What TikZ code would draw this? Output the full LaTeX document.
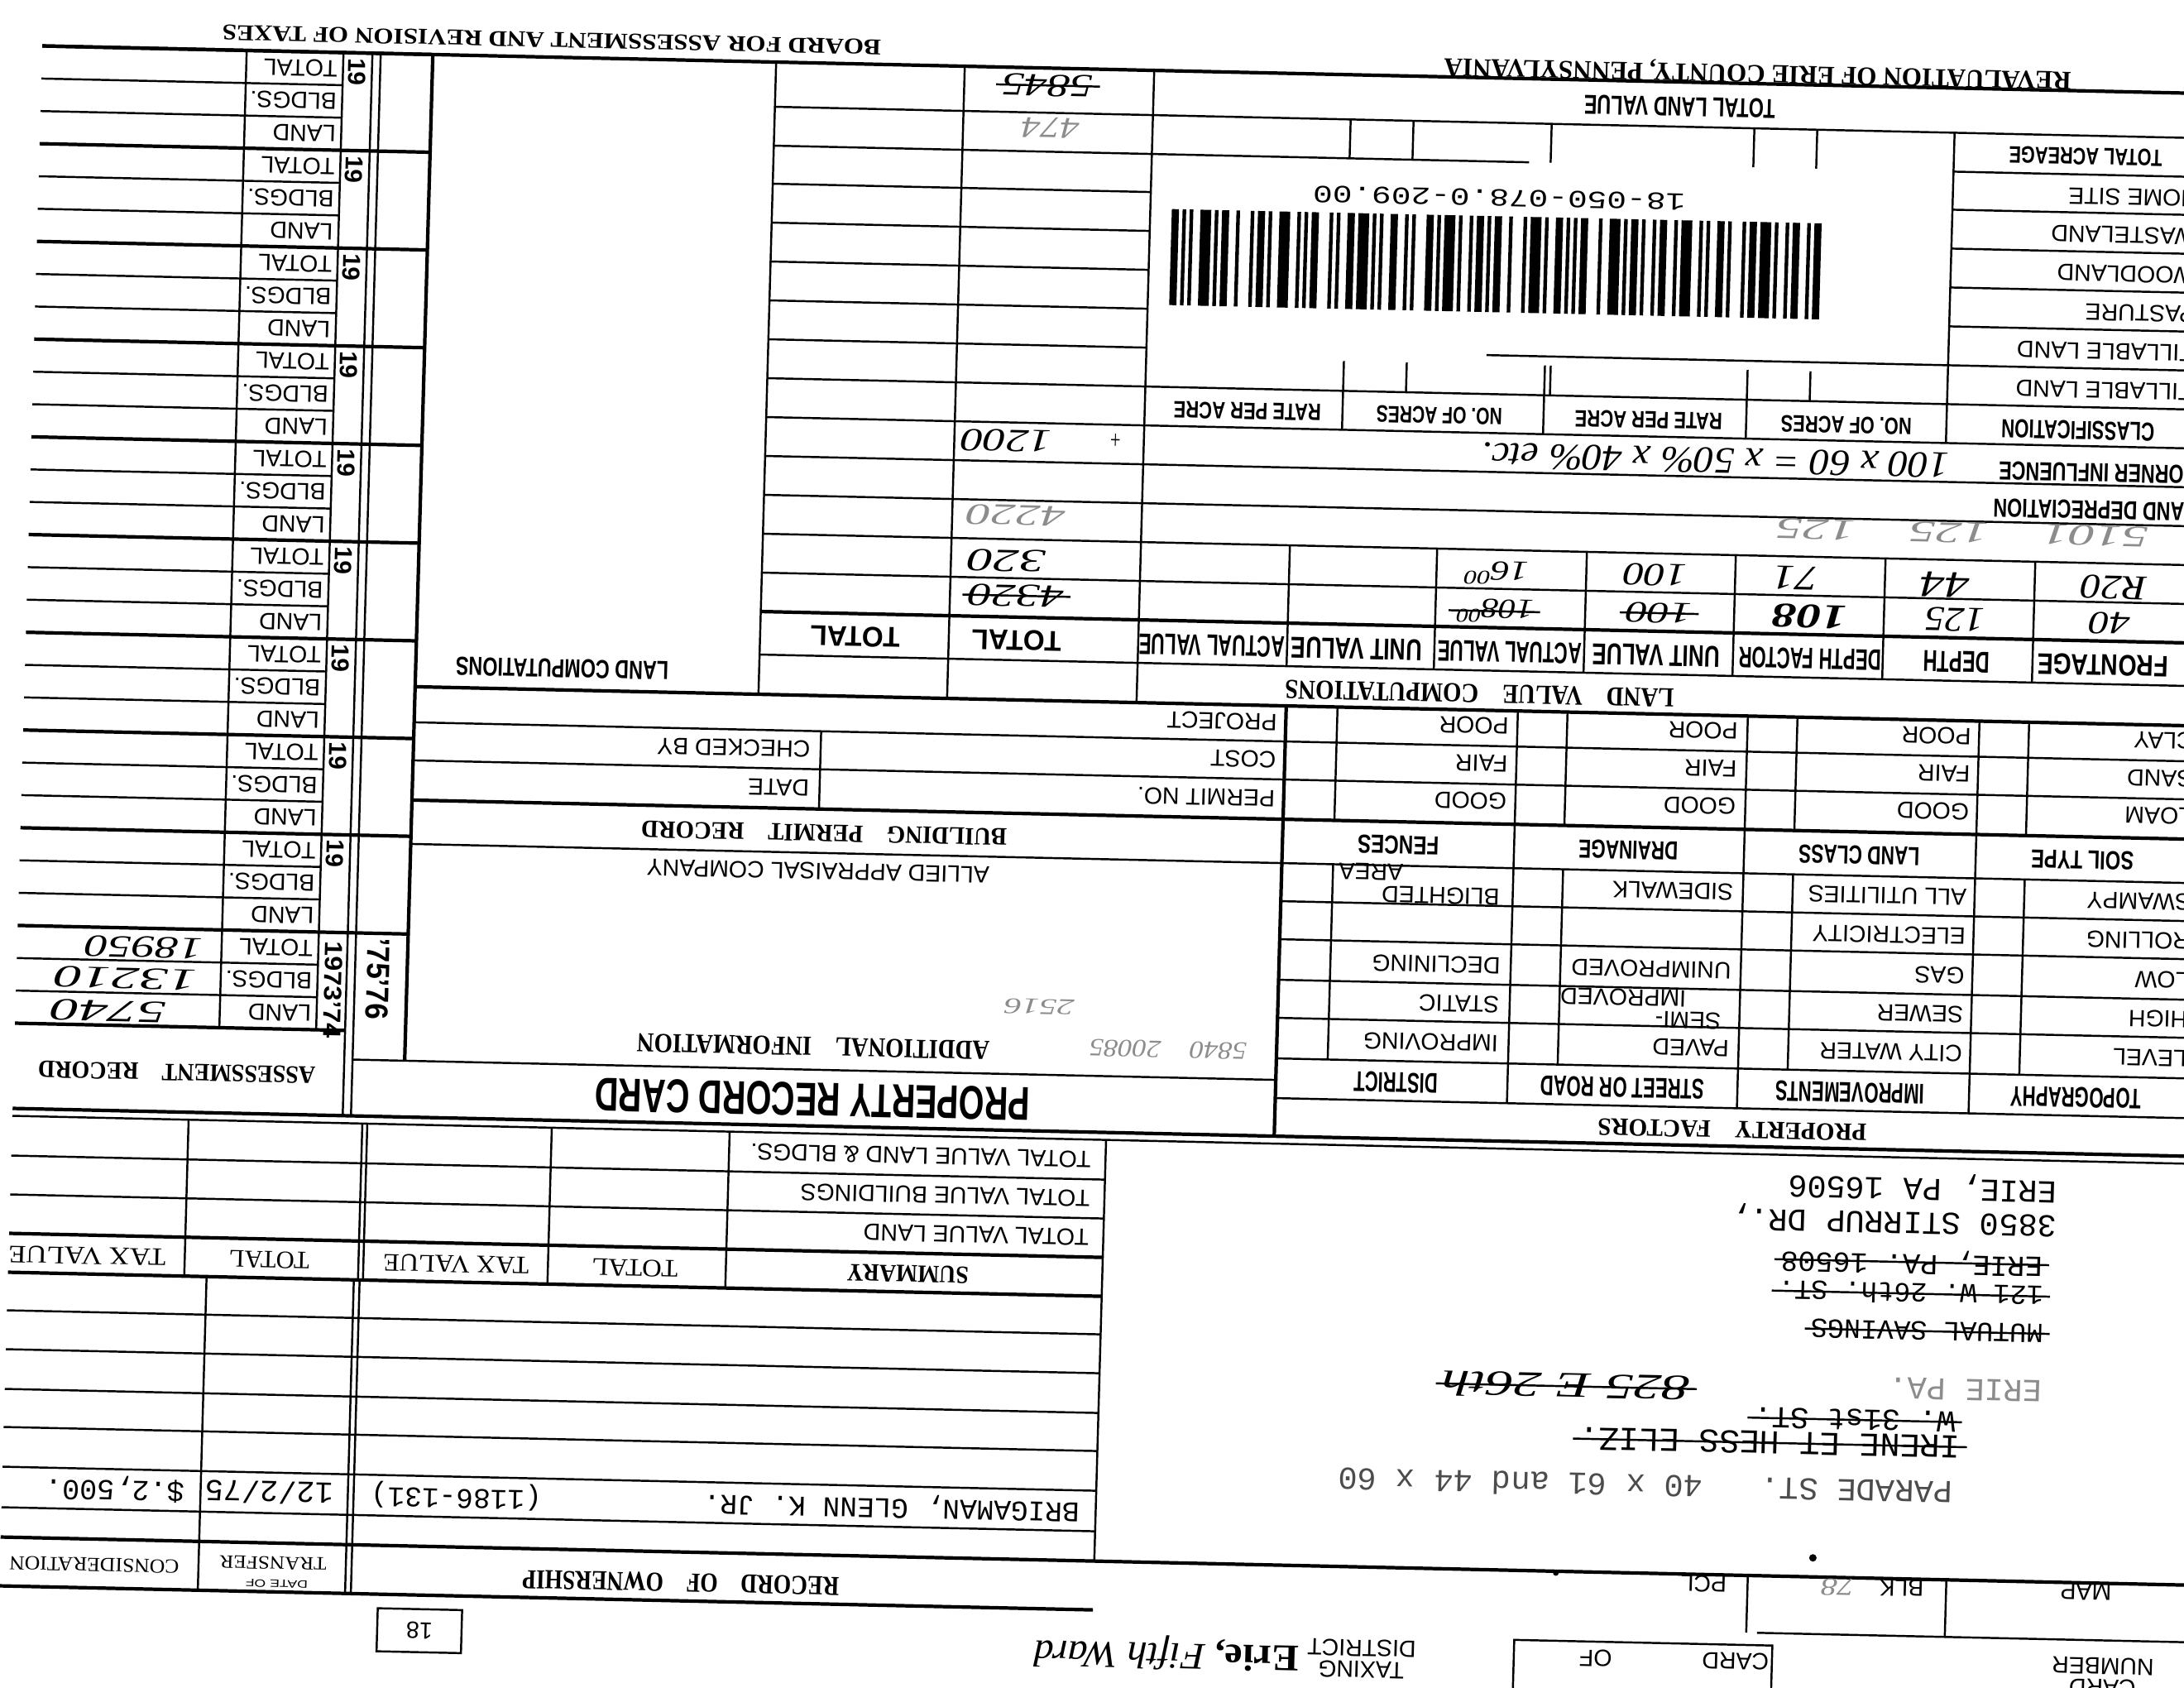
\documentclass[tikz,border=0pt]{standalone}
\usepackage{fontspec}
\setmainfont{Liberation Serif}
\setsansfont{Liberation Sans}
\setmonofont{Liberation Mono}
\usepackage{graphicx}

\newcommand{\sq}[3]{\resizebox{#1cm}{#2cm}{#3}}
\newcommand{\labf}{\sffamily\fontsize{8.1}{9}\selectfont}
\newcommand{\typf}{\ttfamily\fontsize{11}{12}\selectfont}

\tikzset{
  ln/.style={line width=0.7pt},
  thk/.style={line width=1.2pt},
  up/.style={rotate=180, inner sep=0pt},
  lab/.style={up, anchor=west, font=\labf},
  hd/.style={up, font=\bfseries\sffamily},
  ser/.style={up, font=\bfseries\rmfamily},
  serm/.style={up, font=\rmfamily},
  typ/.style={up, anchor=west, font=\typf},
  hw/.style={up, font=\rmfamily\itshape},
  faint/.style={text=black!45},
  strike/.style={ln, shorten <=-2pt, shorten >=-2pt},
}

\begin{document}
\begin{tikzpicture}
\fill[white] (0,0) rectangle (26.4,-20.4);
\useasboundingbox (0,0) rectangle (26.4,-20.4);
\begin{scope}[cm={1,-0.022,0.028,1,(0.2856,0.2904)}, transform shape]

% assessment record blocks
\foreach \k in {0,...,9}{
  \pgfmathsetmacro\bt{0.84+1.181*\k}
  \draw[thk] (0.25,-\bt) -- (4.97,-\bt);
  \draw[ln] (0.25,-\bt-0.394) -- (3.89,-\bt-0.394);
  \draw[ln] (0.25,-\bt-0.787) -- (3.89,-\bt-0.787);
  \node[lab] (tot\k) at (3.83,-\bt-0.197) {TOTAL};
  \node[lab] (bld\k) at (3.83,-\bt-0.590) {BLDGS.};
  \node[lab] (lnd\k) at (3.83,-\bt-0.984) {LAND};
  \ifnum\k<9
    \node[rotate=-90, inner sep=0pt, font=\bfseries\sffamily\fontsize{8.5}{9}\selectfont] (yr\k) at (4.06,-\bt-0.23) {19};
  \fi
}
\draw[thk] (0.25,-12.65) -- (4.24,-12.65);
\draw[ln] (2.72,-0.84) -- (2.72,-12.65);
\draw[ln] (3.89,-0.84) -- (3.89,-12.65);
\draw[ln] (4.24,-0.84) -- (4.24,-13.68);
\draw[ln] (4.34,-0.84) -- (4.34,-13.68);
\node[rotate=-90, inner sep=0pt, font=\bfseries\sffamily] (yr9) at (4.08,-12.16) {\sq{1.17}{0.21}{1973'74}};
\node[rotate=-90, inner sep=0pt, font=\bfseries\sffamily] (yr10) at (4.62,-12.02) {\sq{0.98}{0.27}{'75'76}};
\node[hw] (av1) at (1.78,-11.70) {\sq{1.42}{0.25}{18950}};
\node[hw] (av2) at (1.57,-12.08) {\sq{1.72}{0.25}{13210}};
\node[hw] (av3) at (1.38,-12.48) {\sq{1.40}{0.25}{5740}};
\node[ser] (asrec) at (2.22,-13.20) {\sq{3.35}{0.20}{ASSESSMENT\quad RECORD}};

% top border and titles
\draw[thk] (0.25,-0.84) -- (26.8,-0.84);
\node[ser] (board) at (6.40,-0.63) {\sq{7.96}{0.18}{BOARD FOR ASSESSMENT AND REVISION OF TAXES}};
\node[ser] (reval) at (20.98,-0.70) {\sq{7.58}{0.21}{REVALUATION OF ERIE COUNTY, PENNSYLVANIA}};

% middle columns
\draw[thk] (4.97,-0.84) -- (4.97,-13.00);
\draw[ln] (9.12,-0.84) -- (9.12,-8.48);
\draw[ln] (11.40,-0.84) -- (11.40,-8.48);
\draw[ln] (13.69,-0.84) -- (13.69,-8.48);
\foreach \y in {1.38,1.85,2.31,2.78,3.25,3.72,4.19,4.66,5.13,5.60,6.07,6.54,7.01}
  \draw[ln] (9.12,-\y) -- (13.69,-\y);
\node[hd] (tota) at (10.27,-7.76) {\sq{1.08}{0.24}{TOTAL}};
\node[hd] (totb) at (12.22,-7.76) {\sq{1.08}{0.24}{TOTAL}};
\node[hd] (lcomp) at (6.74,-8.22) {\sq{2.57}{0.22}{LAND COMPUTATIONS}};

% land value table
\draw[ln] (13.69,-1.38) -- (26.8,-1.38);
\draw[ln] (13.69,-1.85) -- (18.25,-1.85);
\foreach \y in {1.85,2.31,2.78,3.25,3.72,4.19}
  \draw[ln] (23.38,-\y) -- (26.8,-\y);
\draw[ln] (17.80,-4.19) -- (23.38,-4.19);
\foreach \y in {4.66,5.13,5.60,6.07,6.54,7.01}
  \draw[ln] (13.69,-\y) -- (26.8,-\y);
\draw[thk] (9.12,-7.48) -- (26.8,-7.48);
\draw[ln] (9.12,-8.00) -- (26.8,-8.00);
\draw[thk] (4.97,-8.48) -- (26.8,-8.48);
\draw[ln] (23.38,-1.38) -- (23.38,-5.13);
\foreach \x in {16.08,16.84,18.51,20.96,21.72}
  \draw[ln] (\x,-1.38) -- (\x,-1.85);
\foreach \x in {16.08,16.84,18.51,18.58,20.96,21.72}
  \draw[ln] (\x,-4.30) -- (\x,-4.66);
\foreach \x in {16.08,18.51,20.96}
  \draw[ln] (\x,-4.66) -- (\x,-5.13);
\foreach \x in {15.49,17.27,19.08,20.88,22.69,24.50}
  \draw[ln] (\x,-6.54) -- (\x,-8.00);

\node[hd] (tlv) at (20.05,-1.14) {\sq{2.31}{0.23}{TOTAL LAND VALUE}};
\node[hd] (tacre) at (24.97,-1.63) {\sq{1.85}{0.20}{TOTAL ACREAGE}};
\node[lab] (home) at (26.35,-2.11) {HOME SITE};
\node[lab] (waste) at (26.35,-2.57) {WASTELAND};
\node[lab] (wood) at (26.35,-3.04) {WOODLAND};
\node[lab] (past) at (26.35,-3.51) {PASTURE};
\node[lab] (till1) at (26.35,-3.98) {TILLABLE LAND};
\node[lab] (till2) at (26.35,-4.45) {TILLABLE LAND};
\node[hd] (clsf) at (24.97,-4.94) {\sq{1.85}{0.22}{CLASSIFICATION}};
\node[hd] (rate1) at (14.93,-4.93) {\sq{1.78}{0.20}{RATE PER ACRE}};
\node[hd] (acres1) at (17.25,-4.93) {\sq{1.52}{0.20}{NO. OF ACRES}};
\node[hd] (rate2) at (19.78,-4.93) {\sq{1.78}{0.20}{RATE PER ACRE}};
\node[hd] (acres2) at (22.17,-4.94) {\sq{1.58}{0.20}{NO. OF ACRES}};
\node[hd] (corner) at (25.23,-5.45) {\sq{2.40}{0.22}{CORNER INFLUENCE}};
\node[hd] (ldep) at (25.20,-5.90) {\sq{2.45}{0.22}{LAND DEPRECIATION}};
\node[hd] (front) at (25.35,-7.77) {\sq{1.58}{0.25}{FRONTAGE}};
\node[hd] (depth) at (23.58,-7.77) {\sq{0.80}{0.25}{DEPTH}};
\node[hd] (dfact) at (21.81,-7.77) {\sq{1.72}{0.25}{DEPTH FACTOR}};
\node[hd] (unit1) at (19.95,-7.77) {\sq{1.54}{0.25}{UNIT VALUE}};
\node[hd] (act1) at (18.18,-7.77) {\sq{1.74}{0.25}{ACTUAL VALUE}};
\node[hd] (unit2) at (16.33,-7.77) {\sq{1.58}{0.25}{UNIT VALUE}};
\node[hd] (act2) at (14.58,-7.77) {\sq{1.76}{0.25}{ACTUAL VALUE}};
\node[ser] (lvc) at (17.83,-8.28) {\sq{4.70}{0.22}{LAND\quad VALUE\quad COMPUTATIONS}};

% barcode label
\node[up, font=\ttfamily] (bcnum) at (17.90,-2.29) {\sq{4.50}{0.20}{18-050-078.0-209.00}};
\def\bpos{0}
\foreach \bw/\sw in {2/1,1/1,1/2,3/1,1/1,2/2,1/3,1/1,2/1,1/2,3/2,1/1,1/1,2/3,1/1,1/2,2/1,3/1,1/1,1/2,2/2,1/1,1/3,2/1,1/1,3/1,1/2,1/1,2/1,1/1,2/2,1/3,1/1,3/1,1/2,2/1,1/1,1/1,2/3,1/2,3/1,1/1,2/1,1/2,1/1,2/2,1/1,3/2,1/1,1/2,2/1,1/3,1/1,2/1,3/1,1/2,1/1,2/2,1/1,2/1}{
  \fill (13.95+\bpos*0.0434,-2.51) rectangle ++(\bw*0.0434,-1.16);
  \pgfmathsetmacro\nbpos{\bpos+\bw+\sw}
  \global\let\bpos\nbpos
}

% handwritten figures
\node[hw] (h5845) at (12.41,-1.05) {\sq{1.10}{0.26}{5845}};
\draw[strike] (h5845.west) -- (h5845.east);
\node[hw, faint] (h474) at (12.46,-1.56) {\sq{0.70}{0.24}{474}};
\node[hw] (h1200) at (12.03,-5.35) {\sq{1.10}{0.26}{1200}};
\node[hw] (hplus) at (13.35,-5.30) {\sq{0.15}{0.18}{+}};
\node[hw, faint] (h4220) at (12.17,-6.25) {\sq{1.20}{0.24}{4220}};
\node[hw] (h320) at (12.07,-6.80) {\sq{0.95}{0.26}{320}};
\node[hw] (h4320) at (12.20,-7.22) {\sq{1.15}{0.26}{4320}};
\draw[strike] (h4320.west) -- (h4320.east);
\node[hw] (hcorner) at (20.60,-5.40) {\sq{5.65}{0.30}{100 x 60 = x 50\% x 40\% etc.}};
\node[hw, faint] (hdep) at (23.61,-6.21) {\sq{4.50}{0.24}{5101\quad 125\quad 125}};
\node[hw] (hr20) at (25.46,-6.83) {\sq{0.80}{0.28}{R20}};
\node[hw] (h40) at (25.42,-7.26) {\sq{0.50}{0.26}{40}};
\node[hw] (h44) at (23.42,-6.84) {\sq{0.60}{0.30}{44}};
\node[hw] (h125) at (23.55,-7.26) {\sq{0.72}{0.28}{125}};
\node[hw] (h71) at (21.61,-6.80) {\sq{0.55}{0.28}{71}};
\node[hw] (h108a) at (21.79,-7.26) {\sq{0.90}{0.28}{\bfseries 108}};
\node[hw] (h100a) at (19.91,-6.80) {\sq{0.77}{0.26}{100}};
\node[hw] (h100b) at (19.97,-7.26) {\sq{0.80}{0.24}{100}};
\draw[strike] (h100b.west) -- (h100b.east);
\node[hw] (h16) at (17.98,-6.82) {\sq{0.80}{0.28}{16\textsuperscript{00}}};
\node[hw] (h108b) at (17.98,-7.28) {\sq{0.95}{0.28}{108\textsuperscript{00}}};
\draw[strike] (h108b.west) -- (h108b.east);

% building permit record
\draw[ln] (4.97,-8.91) -- (26.8,-8.91);
\draw[ln] (4.97,-9.37) -- (26.8,-9.37);
\draw[thk] (4.97,-9.85) -- (26.8,-9.85);
\draw[ln] (4.97,-10.38) -- (26.8,-10.38);
\draw[ln] (9.89,-8.91) -- (9.89,-9.85);
\draw[ln] (4.34,-13.00) -- (15.50,-13.00);
\draw[thk] (15.50,-8.48) -- (15.50,-13.68);
\node[lab] (proj) at (15.40,-8.68) {PROJECT};
\node[lab] (cost) at (15.40,-9.13) {COST};
\node[lab] (permit) at (15.40,-9.60) {PERMIT NO.};
\node[lab] (chk) at (9.77,-9.13) {CHECKED BY};
\node[lab] (date) at (9.77,-9.60) {DATE};
\node[ser] (bpr) at (9.96,-10.14) {\sq{4.42}{0.20}{BUILDING\quad PERMIT\quad RECORD}};
\node[lab, anchor=center] (allied) at (9.90,-10.60) {ALLIED APPRAISAL COMPANY};
\node[ser] (addi) at (9.90,-12.72) {\sq{4.26}{0.22}{ADDITIONAL\quad INFORMATION}};
\node[hw, faint] (h2516) at (12.62,-12.18) {\sq{0.85}{0.18}{2516}};
\node[hw, faint] (h5840) at (14.19,-12.66) {\sq{1.90}{0.20}{5840\quad 20085}};
\node[hd] (prc) at (9.91,-13.36) {\sq{5.26}{0.40}{PROPERTY RECORD CARD}};

% property factors
\foreach \y in {10.84,11.30,11.79,12.25,12.74,13.22}
  \draw[ln] (15.50,-\y) -- (26.8,-\y);
\foreach \x in {18.30,21.08,23.88}
  \draw[ln] (\x,-8.48) -- (\x,-13.22);
\foreach \x in {16.12,18.90,21.68,24.48}{
  \draw[ln] (\x,-8.48) -- (\x,-9.85);
  \draw[ln] (\x,-10.38) -- (\x,-12.74);
}
\foreach \lbl [count=\n] in {CLAY,SAND,LOAM}
  \node[lab] (soil\n) at (26.48,-8.21-0.455*\n) {\lbl};
\foreach \cl/\x in {lc/23.79,dr/20.97,fe/18.20}
  \foreach \lbl [count=\n] in {POOR,FAIR,GOOD}
    \node[lab] (\cl\n) at (\x,-8.21-0.455*\n) {\lbl};
\node[hd] (soilt) at (25.17,-10.13) {\sq{1.24}{0.22}{SOIL TYPE}};
\node[hd] (lclass) at (22.47,-10.13) {\sq{1.46}{0.22}{LAND CLASS}};
\node[hd] (drain) at (19.68,-10.13) {\sq{1.20}{0.22}{DRAINAGE}};
\node[hd] (fence) at (16.90,-10.13) {\sq{0.98}{0.22}{FENCES}};
\foreach \lbl [count=\n] in {SWAMPY,ROLLING,LOW,HIGH,LEVEL}
  \node[lab] (topo\n) at (26.50,-10.14-0.472*\n) {\lbl};
\foreach \lbl [count=\n] in {ALL UTILITIES,ELECTRICITY,GAS,SEWER,CITY WATER}
  \node[lab] (impr\n) at (23.79,-10.14-0.472*\n) {\lbl};
\node[lab] (road1) at (20.97,-10.61) {SIDEWALK};
\node[lab] (road3) at (20.97,-11.56) {UNIMPROVED};
\node[lab, anchor=center] (road4a) at (20.46,-12.17) {SEMI-};
\node[lab, anchor=center] (road4b) at (19.67,-11.91) {IMPROVED};
\node[lab] (road5) at (20.97,-12.50) {PAVED};
\node[lab, anchor=center] (dst1a) at (17.43,-10.73) {BLIGHTED};
\node[lab, anchor=center] (dst1b) at (16.58,-10.46) {AREA};
\node[lab] (dst3) at (18.18,-11.56) {DECLINING};
\node[lab] (dst4) at (18.18,-12.03) {STATIC};
\node[lab] (dst5) at (18.18,-12.50) {IMPROVING};
\node[hd] (topo) at (25.17,-13.00) {\sq{1.58}{0.24}{TOPOGRAPHY}};
\node[hd] (impv) at (22.44,-13.00) {\sq{1.80}{0.24}{IMPROVEMENTS}};
\node[hd] (street) at (19.69,-13.00) {\sq{1.98}{0.24}{STREET OR ROAD}};
\node[hd] (dist) at (16.95,-13.00) {\sq{1.01}{0.24}{DISTRICT}};
\node[ser] (pfac) at (21.03,-13.48) {\sq{3.25}{0.20}{PROPERTY\quad FACTORS}};

\draw[thk] (0.25,-13.68) -- (26.8,-13.68);
\draw[ln] (0.25,-13.77) -- (26.8,-13.77);

% summary
\foreach \y in {14.25,14.72}
  \draw[ln] (0.25,-\y) -- (13.47,-\y);
\draw[thk] (0.25,-15.19) -- (13.47,-15.19);
\draw[thk] (0.25,-15.66) -- (13.47,-15.66);
\foreach \x in {2.38,4.48,4.54,6.77,8.92}
  \draw[ln] (\x,-13.77) -- (\x,-15.66);
\draw[ln] (13.47,-13.77) -- (13.47,-18.86);
\node[lab] (sum1) at (13.30,-14.01) {TOTAL VALUE LAND \& BLDGS.};
\node[lab] (sum2) at (13.30,-14.48) {TOTAL VALUE BUILDINGS};
\node[lab] (sum3) at (13.30,-14.95) {TOTAL VALUE LAND};
\node[ser] (summ) at (11.12,-15.44) {\sq{1.47}{0.20}{SUMMARY}};
\node[serm] (stot1) at (7.82,-15.44) {\sq{1.04}{0.20}{TOTAL}};
\node[serm] (stax1) at (5.66,-15.44) {\sq{1.76}{0.20}{TAX VALUE}};
\node[serm] (stot2) at (3.40,-15.44) {\sq{0.97}{0.20}{TOTAL}};
\node[serm] (stax2) at (1.20,-15.44) {\sq{1.90}{0.20}{TAX VALUE}};

% record of ownership
\foreach \y in {16.12,16.59,17.07,17.53,18.01,18.50}
  \draw[ln] (0.25,-\y) -- (13.47,-\y);
\draw[thk] (0.25,-18.86) -- (26.8,-18.86);
\draw[thk] (0.25,-19.45) -- (13.47,-19.45);
\foreach \x in {2.65,4.43,4.50}
  \draw[ln] (\x,-15.66) -- (\x,-19.45);
\node[typ, font=\ttfamily\fontsize{9.8}{10}\selectfont] (owner) at (13.28,-18.25) {BRIGAMAN, GLENN K. JR.};
\node[typ, font=\ttfamily\fontsize{9.8}{10}\selectfont] (deed) at (6.78,-18.25) {(1186-131)};
\node[typ, font=\ttfamily\fontsize{10.5}{11}\selectfont] (tdate) at (4.26,-18.25) {12/2/75};
\node[typ, font=\ttfamily\fontsize{10}{11}\selectfont] (consid) at (2.46,-18.25) {\$.2,500.};
\node[ser] (rown) at (8.48,-19.23) {\sq{3.83}{0.22}{RECORD\quad OF\quad OWNERSHIP}};
\node[serm] (trans) at (3.55,-19.10) {\sq{1.29}{0.15}{TRANSFER}};
\node[up, font=\sffamily] (dof) at (3.60,-19.35) {\sq{0.75}{0.09}{DATE OF}};
\node[serm] (cons) at (1.39,-19.17) {\sq{2.05}{0.16}{CONSIDERATION}};

% owner address
\node[typ] (adr1) at (24.98,-14.12) {ERIE, PA 16506};
\node[typ] (adr2) at (24.99,-14.53) {3850 STIRRUP DR.,};
\node[typ, font=\ttfamily\fontsize{10}{11}\selectfont] (adr3) at (24.83,-15.03) {ERIE, PA. 16508};
\node[typ, font=\ttfamily\fontsize{9.5}{11}\selectfont] (adr4) at (24.85,-15.41) {121 W. 26th. ST.};
\node[typ, font=\ttfamily\fontsize{9.5}{11}\selectfont] (adr5) at (24.86,-15.86) {MUTUAL SAVINGS};
\node[typ, faint] (adr6) at (24.87,-16.56) {ERIE PA.};
\node[typ, font=\ttfamily\fontsize{10.5}{11}\selectfont] (adr7) at (23.83,-16.95) {W. 31st ST.};
\node[typ, font=\ttfamily\fontsize{11.5}{12}\selectfont] (adr8) at (23.90,-17.25) {IRENE ET HESS ELIZ.};
\node[typ, text=black!70] (adr9) at (23.82,-17.81) {PARADE ST.\ \ \ 40 x 61 and 44 x 60};
\foreach \a in {adr3,adr4,adr5,adr7,adr8}
  \draw[strike] (\a.west) -- (\a.east);
\node[hw] (h825) at (19.11,-16.62) {\sq{3.00}{0.30}{825 E 26th}};
\draw[strike] (h825.west) -- (h825.east);

% map, card and district
\draw[ln] (21.37,-18.86) -- (21.37,-19.55);
\draw[ln] (23.77,-18.86) -- (23.77,-19.55);
\draw[ln] (21.50,-19.55) -- (26.8,-19.55);
\draw[ln] (18.57,-20.60) -- (18.57,-19.70) -- (21.69,-19.70) -- (21.69,-20.60);
\draw[ln] (4.83,-19.62) rectangle (5.85,-20.14);
\fill (22.15,-18.63) circle (0.045);
\fill (19.05,-18.88) circle (0.035);
\node[lab, anchor=center] (map) at (25.46,-18.97) {MAP};
\node[lab, anchor=center] (blk) at (23.23,-18.97) {BLK};
\node[hw, faint] (h78) at (22.46,-18.98) {\sq{0.40}{0.20}{78}};
\node[lab, anchor=center] (pcl) at (20.84,-18.97) {PCL};
\node[lab, anchor=center] (card) at (21.25,-19.90) {CARD};
\node[lab, anchor=center] (cof) at (19.56,-19.90) {OF};
\node[lab, anchor=center] (numb) at (25.69,-19.86) {NUMBER};
\node[lab, anchor=center] (card2) at (25.69,-20.12) {CARD};
\node[lab, anchor=center] (dist2) at (16.73,-19.84) {DISTRICT};
\node[lab, anchor=center] (taxing) at (16.73,-20.10) {TAXING};
\node[hw] (hward) at (14.37,-19.95) {\sq{3.20}{0.32}{{\upshape\bfseries Erie,} Fifth Ward}};
\node[lab, anchor=center] (n18) at (5.34,-19.88) {18};

\end{scope}
\end{tikzpicture}
\end{document}
